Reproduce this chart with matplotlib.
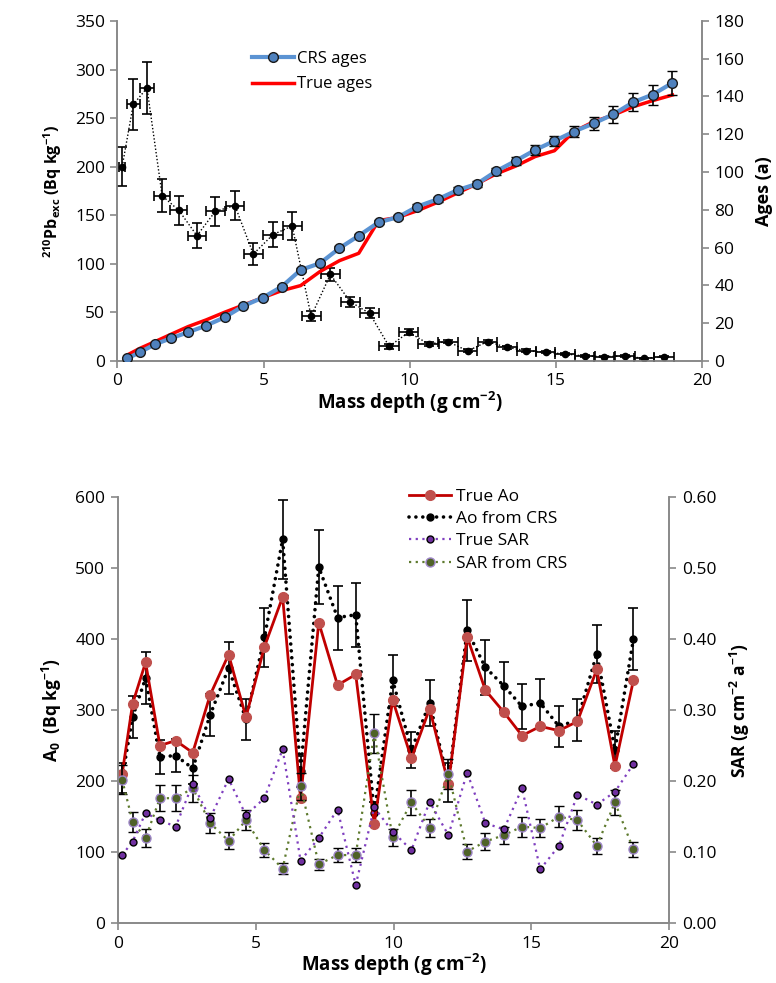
import matplotlib
matplotlib.use("Agg")
import matplotlib.pyplot as plt
from matplotlib.lines import Line2D

plt.rcParams["font.family"] = ["Open Sans", "DejaVu Sans"]
plt.rcParams["mathtext.default"] = "regular"

# mass depth of slice mid-points and slice bottoms (g cm-2)
depth_mid = [0.16, 0.54, 1.01, 1.53, 2.10, 2.72, 3.35, 4.02, 4.65, 5.32,
             5.98, 6.63, 7.29, 7.97, 8.63, 9.30, 9.97, 10.65, 11.31, 11.99,
             12.67, 13.33, 14.00, 14.66, 15.32, 16.00, 16.67, 17.37, 18.03, 18.70]
depth_bottom = [0.34, 0.77, 1.28, 1.83, 2.42, 3.03, 3.67, 4.31, 4.97, 5.62,
                6.27, 6.93, 7.60, 8.26, 8.94, 9.60, 10.26, 10.96, 11.65, 12.30,
                12.96, 13.64, 14.30, 14.96, 15.62, 16.31, 16.98, 17.66, 18.32, 19.00]
depth_half = [0.10, 0.22, 0.25, 0.27, 0.29, 0.30, 0.32, 0.32, 0.33, 0.33,
              0.32, 0.33, 0.33, 0.33, 0.34, 0.33, 0.33, 0.35, 0.34, 0.33,
              0.33, 0.34, 0.33, 0.33, 0.33, 0.34, 0.34, 0.34, 0.33, 0.34]

# top panel
pb_exc = [200, 264, 281, 170, 155, 129, 154, 160, 110, 130,
          139, 46, 89, 61, 49, 15, 29.5, 17.5, 20, 10.3,
          20, 14, 10.6, 8.9, 7.2, 5.1, 4.5, 5.1, 2.7, 4.5]
pb_err = [20, 26, 27, 17, 15, 13, 15, 15, 11, 13,
          14, 5, 7, 5, 5, 2.5, 3, 2, 2, 1.5,
          2, 1.5, 1.2, 1, 1, 0.8, 0.8, 0.8, 0.5, 0.7]
crs_ages = [1.4, 4.6, 8.8, 12.0, 15.2, 18.7, 23.1, 29.1, 33.5, 39.3,
            48.2, 51.7, 59.7, 66.3, 73.4, 76.1, 81.7, 85.6, 90.5, 93.7,
            100.4, 106.0, 111.7, 116.5, 121.4, 125.8, 130.6, 137.0, 141.0, 147.2]
crs_err = [0.2, 0.3, 0.4, 0.5, 0.5, 0.6, 0.6, 0.7, 0.7, 0.8,
           0.9, 0.9, 1.0, 1.0, 1.1, 1.1, 1.2, 1.3, 1.4, 1.5,
           1.7, 2.0, 2.5, 2.6, 2.8, 3.5, 4.4, 4.7, 5.3, 6.5]
true_ages = [3.2, 6.7, 10.2, 14.1, 18.2, 21.7, 25.8, 29.6, 33.5, 37.2,
             39.9, 47.3, 53.1, 57.0, 74.3, 76.0, 79.5, 84.0, 89.0, 93.7,
             99.0, 103.2, 108.2, 111.3, 121.4, 126.7, 130.2, 134.6, 137.8, 140.8]

# bottom panel
true_ao = [210, 309, 367, 250, 257, 240, 321, 378, 290, 389,
           459, 176, 423, 335, 350, 140, 314, 232, 302, 196,
           403, 328, 297, 264, 277, 271, 284, 357, 221, 342]
ao_crs = [205, 290, 345, 234, 236, 218, 293, 359, 287, 402,
          540, 214, 501, 430, 434, 155, 342, 244, 310, 198,
          412, 360, 334, 305, 310, 277, 286, 379, 244, 400]
ao_err = [21, 30, 36, 24, 23, 22, 29, 37, 29, 42,
          56, 22, 52, 45, 45, 16, 36, 25, 32, 27,
          43, 39, 34, 31, 34, 29, 30, 41, 26, 44]
true_sar = [0.096, 0.115, 0.155, 0.145, 0.136, 0.196, 0.148, 0.203, 0.152, 0.176,
            0.245, 0.088, 0.120, 0.160, 0.054, 0.163, 0.129, 0.103, 0.171, 0.124,
            0.212, 0.141, 0.132, 0.190, 0.076, 0.109, 0.181, 0.167, 0.185, 0.224]
sar_crs = [0.202, 0.143, 0.120, 0.176, 0.176, 0.190, 0.141, 0.116, 0.145, 0.103,
           0.077, 0.193, 0.083, 0.096, 0.096, 0.267, 0.121, 0.170, 0.134, 0.210,
           0.101, 0.115, 0.124, 0.136, 0.134, 0.150, 0.145, 0.109, 0.170, 0.104]
sar_err = [0.020, 0.014, 0.012, 0.018, 0.018, 0.019, 0.014, 0.012, 0.014, 0.010,
           0.008, 0.019, 0.008, 0.010, 0.010, 0.027, 0.012, 0.017, 0.013, 0.021,
           0.010, 0.012, 0.012, 0.014, 0.013, 0.015, 0.014, 0.011, 0.017, 0.011]

GREY = "#898989"
AO_DOTS = (0, (0.01, 1.9))


def style_axes(ax):
    ax.spines["top"].set_visible(False)
    for s in ("left", "right", "bottom"):
        ax.spines[s].set_color(GREY)
        ax.spines[s].set_linewidth(1.2)
    ax.tick_params(colors=GREY, labelcolor="black", labelsize=12.5,
                   direction="out", length=5, width=1.2, pad=4)


fig = plt.figure(figsize=(7.76, 9.83), dpi=100)

# ---------- top panel ----------
ax1 = fig.add_axes([0.1514, 0.6328, 0.7528, 0.3459])
ax1.errorbar(depth_mid, pb_exc, yerr=pb_err, xerr=depth_half, fmt="o",
             color="black", ms=4.5, ls=(0, (1, 1.5)), lw=1.0,
             elinewidth=1.2, capsize=3.5, capthick=1.2, zorder=3)
ax1.set_xlim(0, 20)
ax1.set_ylim(0, 350)
ax1.set_xticks([0, 5, 10, 15, 20])
ax1.set_yticks(range(0, 351, 50))
ax1.set_xlabel("Mass depth (g cm$^{-2}$)", labelpad=0, fontsize=13.5,
               fontweight="bold")
ax1.set_ylabel("$^{210}$Pb$_{exc}$ (Bq kg$^{-1}$)", labelpad=8, fontsize=11.5,
               fontweight="bold")
style_axes(ax1)

ax2 = ax1.twinx()
ax2.plot(depth_bottom, true_ages, color="#FF0000", lw=2.5, zorder=2)
ax2.errorbar(depth_bottom, crs_ages, yerr=crs_err, fmt="-o", color="#5B93D3",
             lw=3, ms=7, mfc="#4F81BD", mec="#1a1a1a", mew=1.0,
             ecolor="black", elinewidth=1.2, capsize=3.5, capthick=1.2, zorder=3)
ax2.set_ylim(0, 180)
ax2.set_yticks(range(0, 181, 20))
ax2.set_ylabel("Ages (a)", labelpad=8, fontsize=13, fontweight="bold")
style_axes(ax2)

h_top = [Line2D([], [], color="#5B93D3", lw=3, marker="o", ms=7,
                mfc="#4F81BD", mec="#1a1a1a"),
         Line2D([], [], color="#FF0000", lw=2.5)]
ax2.legend(h_top, ["CRS ages", "True ages"], loc="upper left",
           bbox_to_anchor=(0.205, 0.955), frameon=False, fontsize=12,
           handlelength=2.5, handletextpad=0.2, labelspacing=0.55)

# ---------- bottom panel ----------
ax3 = fig.add_axes([0.1517, 0.0607, 0.7108, 0.4340])
ax3.plot(depth_mid, true_ao, "-o", color="#C00000", lw=2, ms=7,
         mfc="#C0504D", mec="#C0504D", zorder=3)
ax3.errorbar(depth_mid, ao_crs, yerr=ao_err, fmt="o", color="black", ms=5,
             elinewidth=1.2, capsize=3.5, capthick=1.2, zorder=2)
ax3.plot(depth_mid, ao_crs, color="black", lw=2.6, ls=AO_DOTS,
         dash_capstyle="round", zorder=2)
ax3.set_xlim(0, 20)
ax3.set_ylim(0, 600)
ax3.set_xticks([0, 5, 10, 15, 20])
ax3.set_yticks(range(0, 601, 100))
ax3.set_xlabel("Mass depth (g cm$^{-2}$)", labelpad=0, fontsize=13.5,
               fontweight="bold")
ax3.set_ylabel("A$_0$  (Bq kg$^{-1}$)", labelpad=8, fontsize=12.5,
               fontweight="bold")
style_axes(ax3)

ax4 = ax3.twinx()
ax4.plot(depth_mid, true_sar, "o", color="#7F3FBF", ls=(0, (1, 2)), lw=1.6,
         ms=5, mfc="#7030A0", mec="black", mew=1.0, zorder=3)
ax4.errorbar(depth_mid, sar_crs, yerr=sar_err, fmt="o", ls=(0, (1, 2)),
             color="#5E7A2E", lw=1.6, ms=6.5, mfc="#4F6228", mec="#9E86C8",
             mew=1.0, ecolor="black", elinewidth=1.2, capsize=3.5,
             capthick=1.2, zorder=2)
ax4.set_ylim(0, 0.6)
ax4.set_yticks([0, 0.1, 0.2, 0.3, 0.4, 0.5, 0.6])
ax4.set_yticklabels([f"{v:.2f}" for v in ax4.get_yticks()])
ax4.set_ylabel("SAR (g cm$^{-2}$ a$^{-1}$)", labelpad=8, fontsize=12.5,
               fontweight="bold")
style_axes(ax4)

h_bot = [Line2D([], [], color="#C00000", lw=2, marker="o", ms=7,
                mfc="#C0504D", mec="#C0504D"),
         Line2D([], [], color="black", lw=2.6, ls=AO_DOTS,
                dash_capstyle="round", marker="o", ms=5),
         Line2D([], [], color="#7F3FBF", lw=1.6, ls=(0, (1, 2)), marker="o",
                ms=5, mfc="#7030A0", mec="black"),
         Line2D([], [], color="#5E7A2E", lw=1.6, ls=(0, (1, 2)), marker="o",
                ms=6.5, mfc="#4F6228", mec="#9E86C8")]
ax4.legend(h_bot, ["True Ao", "Ao from CRS", "True SAR", "SAR from CRS"],
           loc="upper left", bbox_to_anchor=(0.5, 1.055), frameon=False,
           fontsize=12.5, handlelength=2.4, handletextpad=0.3,
           labelspacing=0.35)

fig.savefig("out.png", dpi=100)
